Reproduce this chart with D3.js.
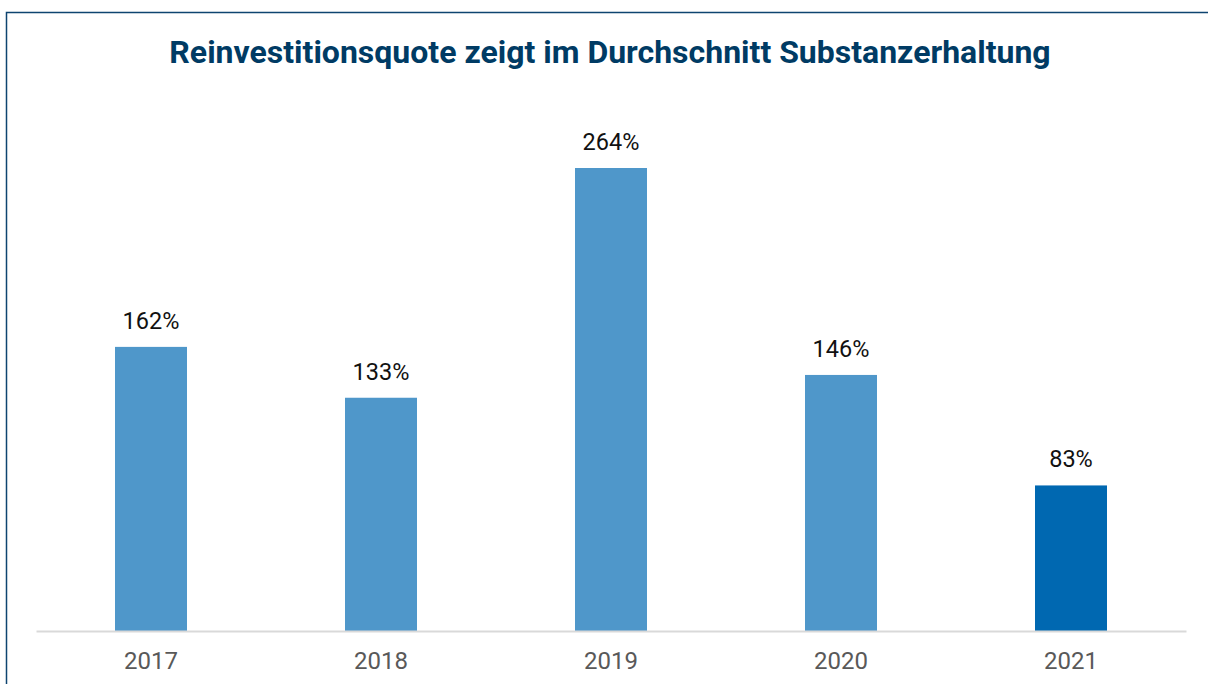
<!DOCTYPE html>
<html>
<head>
<meta charset="utf-8">
<script src="https://cdn.jsdelivr.net/npm/d3@7"></script>
<style>
  body { margin: 0; background: #fff; font-family: Roboto, sans-serif; }
</style>
</head>
<body>
<div class="chart"></div>
<script>
// Reinvestitionsquote 2017-2021
const years = ['2017', '2018', '2019', '2020', '2021'];
const quote = [162, 133, 264, 146, 83];
const barColors = ['#4F97CA', '#4F97CA', '#4F97CA', '#4F97CA', '#0068B1'];

const data = years.map((y, i) => ({year: y, value: quote[i], color: barColors[i]}));

const width = 1208;
const height = 684;
const margin = {top: 168, right: 22, bottom: 53, left: 36};

const svg = d3.select('.chart')
    .append('svg')
    .attr('width', width)
    .attr('height', height);

// frame
svg.append('rect')
    .attr('x', 6.5)
    .attr('y', 12.5)
    .attr('width', 1220)
    .attr('height', 700)
    .attr('fill', 'none')
    .attr('stroke', '#0E4470')
    .attr('stroke-width', 1.5);

svg.append('text')
    .attr('x', 610)
    .attr('y', 63)
    .attr('text-anchor', 'middle')
    .attr('font-size', 32)
    .attr('font-weight', 'bold')
    .attr('fill', '#003B64')
    .text('Reinvestitionsquote zeigt im Durchschnitt Substanzerhaltung');

const xScale = d3.scaleBand()
    .domain(years)
    .range([margin.left, width - margin.right])
    .paddingInner(0.687)
    .paddingOuter(0.3435);

const yScale = d3.scaleLinear()
    .domain([0, d3.max(quote)])
    .range([height - margin.bottom, margin.top]);

svg.selectAll('.bar')
    .data(data)
    .enter()
    .append('rect')
    .attr('class', 'bar')
    .attr('x', d => xScale(d.year))
    .attr('y', d => yScale(d.value))
    .attr('width', xScale.bandwidth())
    .attr('height', d => yScale(0) - yScale(d.value))
    .attr('fill', d => d.color);

svg.selectAll('.label')
    .data(data)
    .enter()
    .append('text')
    .attr('class', 'label')
    .attr('x', d => xScale(d.year) + xScale.bandwidth() / 2)
    .attr('y', d => yScale(d.value) - 18)
    .attr('text-anchor', 'middle')
    .attr('font-size', 23.5)
    .attr('fill', '#111')
    .text(d => d.value + '%');

const xAxis = d3.axisBottom(xScale).tickSize(0).tickPadding(21);

const gx = svg.append('g')
    .attr('class', 'axis x-axis')
    .attr('transform', `translate(0, ${yScale(0)})`)
    .call(xAxis);

gx.select('.domain')
    .attr('stroke', '#D9D9D9')
    .attr('stroke-width', 2);

gx.selectAll('text')
    .attr('font-family', 'Roboto, sans-serif')
    .attr('font-size', 24)
    .attr('fill', '#595959');
</script>
</body>
</html>
